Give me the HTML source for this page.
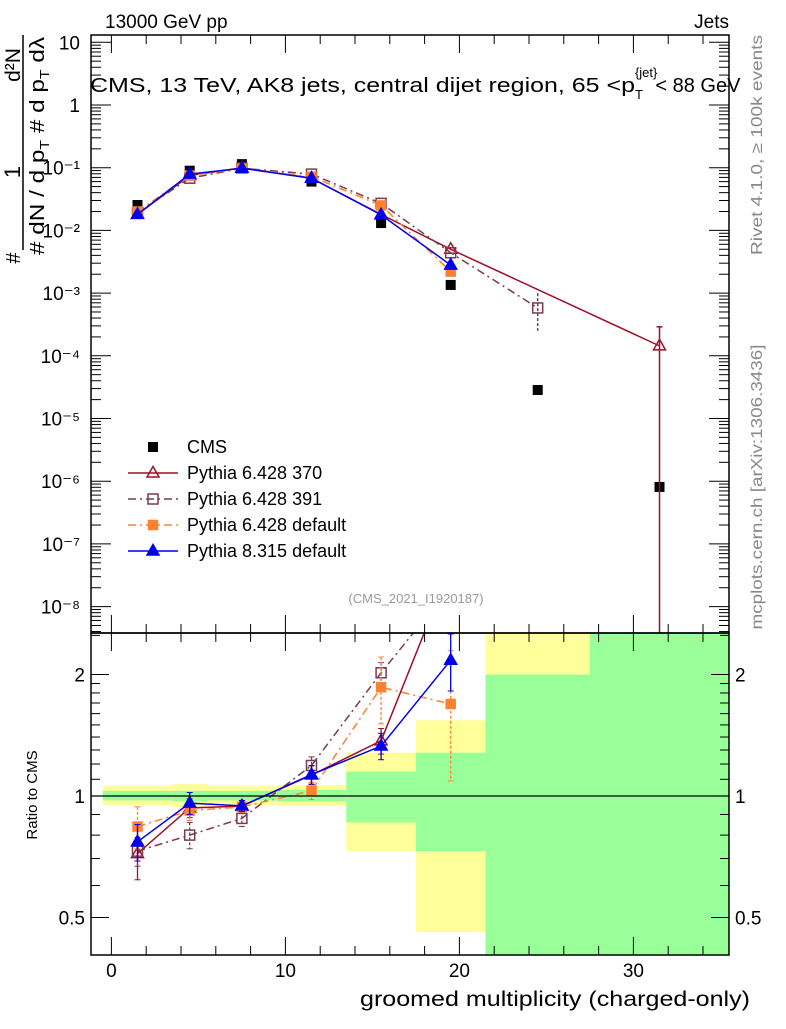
<!DOCTYPE html>
<html><head><meta charset="utf-8"><style>
body{margin:0;background:#fff}
svg text{font-family:"Liberation Sans",sans-serif}
</style></head><body>
<svg id="c" width="786" height="1024" xmlns="http://www.w3.org/2000/svg">
<text x="105" y="28" font-size="19">13000 GeV pp</text>
<text x="729" y="28" font-size="19" text-anchor="end">Jets</text>
<g id="bands"></g>
<g id="marks"></g>
<g id="axes"></g>
<text x="90" y="92" font-size="20"><tspan textLength="545" lengthAdjust="spacingAndGlyphs">CMS, 13 TeV, AK8 jets, central dijet region, 65 &lt;p</tspan><tspan font-size="13" dy="7">T</tspan><tspan font-size="13" dy="-22" dx="-8">{jet}</tspan><tspan dy="15" dx="-2">&lt; 88 GeV</tspan></text>
<text transform="translate(762,145) rotate(-90)" font-size="16" fill="#888" text-anchor="middle" textLength="220" lengthAdjust="spacingAndGlyphs">Rivet 4.1.0, ≥ 100k events</text>
<text transform="translate(762,487) rotate(-90)" font-size="16" fill="#888" text-anchor="middle" textLength="285" lengthAdjust="spacingAndGlyphs">mcplots.cern.ch [arXiv:1306.3436]</text>
<text x="416" y="603" font-size="13" fill="#999" text-anchor="middle">(CMS_2021_I1920187)</text>
<g>
<text transform="translate(20,65) rotate(-90)" text-anchor="middle" font-size="21">d²N</text>
<text transform="translate(20,172) rotate(-90)" text-anchor="middle" font-size="22">1</text>
<text transform="translate(20,258) rotate(-90)" text-anchor="middle" font-size="20">#</text>
<line x1="23" y1="35" x2="23" y2="250" stroke="#000" stroke-width="1.5"/>
<text transform="translate(44,255) rotate(-90)" font-size="20" textLength="218" lengthAdjust="spacingAndGlyphs"># dN / d p<tspan font-size="13" dy="5">T</tspan><tspan dy="-5"> # d p</tspan><tspan font-size="13" dy="5">T</tspan><tspan dy="-5"> dλ</tspan></text>
</g>
<text transform="translate(37,795) rotate(-90)" font-size="15" text-anchor="middle">Ratio to CMS</text>
<text x="750" y="1006" font-size="21" text-anchor="end" textLength="390" lengthAdjust="spacingAndGlyphs">groomed multiplicity (charged-only)</text>
<g id="legend"></g>
</svg>
<script>
const xCenters=[1.5,4.5,7.5,11.5,15.5,19.5,24.5,31.5];
const binEdges=[-0.5,3.5,5.5,9.5,13.5,17.5,21.5,27.5,35.5];
const cms=[0.0254,0.0895,0.114,0.060,0.0131,0.00135,2.85e-5,8.1e-7];
const p370=[0.018,0.075,0.100,0.068,0.018,0.005,null,1.44e-4];
const p391=[0.019,0.068,0.098,0.079,0.027,0.0044,5.8e-4,null];
const p6def=[0.020,0.075,0.097,0.072,0.025,0.0022,null,null];
const p8=[0.018,0.079,0.098,0.068,0.0177,0.0028,null,null];
const r370=[0.72,0.934,0.944,1.127,1.37,3.7];
const r391=[0.73,0.80,0.88,1.19,2.02,3.3];
const r6def=[0.84,0.92,0.94,1.03,1.86,1.69];
const r8=[0.77,0.96,0.945,1.13,1.33,2.17];
const rErr370=[0.10,0.05,0.03,0.06,0.10,0];
const rErr391=[0.06,0.06,0.04,0.06,0.12,0];
const rErr6=[0.10,0.05,0.03,0.05,0.35,0.6];
const rErr8=[0.08,0.06,0.03,0.06,0.10,0.35];
const bandYellowHi=[1.06,1.07,1.06,1.065,1.28,1.54,3,3];
const bandYellowLo=[0.95,0.94,0.95,0.945,0.73,0.46,0.3,0.3];
const bandGreenHi=[1.03,1.03,1.03,1.035,1.15,1.28,2.0,3];
const bandGreenLo=[0.975,0.97,0.975,0.97,0.86,0.73,0.3,0.3];
const mainTicks=["10","1","10⁻¹","10⁻²","10⁻³","10⁻⁴","10⁻⁵","10⁻⁶","10⁻⁷","10⁻⁸"];
const xTicks=[0,10,20,30];

const NS="http://www.w3.org/2000/svg";
const L=91,R=729,T=35,M=633,B=955;
const X=v=>111.4+17.4*v;
const Y=v=>105-62.7*Math.log10(v);
const RY=v=>796-121.5*Math.log2(v);
function mk(tag,at,par){const e=document.createElementNS(NS,tag);for(const k in at)e.setAttribute(k,at[k]);(par||document.getElementById('marks')).appendChild(e);return e;}
const bands=document.getElementById('bands'),axes=document.getElementById('axes'),marks=document.getElementById('marks');
const clipR=mk('clipPath',{id:'cr'},document.getElementById('c'));mk('rect',{x:L,y:M,width:R-L,height:B-M},clipR);
const clipM=mk('clipPath',{id:'cm'},document.getElementById('c'));mk('rect',{x:L,y:T,width:R-L,height:M-T},clipM);
bands.setAttribute('clip-path','url(#cr)');
for(let i=0;i<8;i++){
 const x1=X(binEdges[i]),x2=X(binEdges[i+1]);
 let e=mk('rect',{x:x1,y:RY(bandYellowHi[i]),width:x2-x1,height:RY(bandYellowLo[i])-RY(bandYellowHi[i]),fill:'#ffff99'},bands);
 
 
 e=mk('rect',{x:x1,y:RY(bandGreenHi[i]),width:x2-x1,height:RY(bandGreenLo[i])-RY(bandGreenHi[i]),fill:'#99ff99'},bands);
 
 
}
mk('line',{x1:L,y1:RY(1),x2:R,y2:RY(1),stroke:'#000','stroke-width':1.3},axes);
mk('rect',{x:L,y:T,width:R-L,height:M-T,fill:'none',stroke:'#000','stroke-width':1.5},axes);
mk('rect',{x:L,y:M,width:R-L,height:B-M,fill:'none',stroke:'#000','stroke-width':1.5},axes);
for(let d=-9;d<=1;d++){for(let k=1;k<10;k++){const v=k*Math.pow(10,d);const y=Y(v);if(y<T||y>M)continue;const len=k==1?20:10;
 mk('line',{x1:L,y1:y,x2:L+len,y2:y,stroke:'#000'},axes);mk('line',{x1:R,y1:y,x2:R-len,y2:y,stroke:'#000'},axes);}}
mainTicks.forEach((t,i)=>{const e=mk('text',{x:80,y:Y(Math.pow(10,1-i))+7,'font-size':19,'text-anchor':'end'},axes);e.textContent=t;
 
 });
for(let v=0;v<=34;v+=2){const x=X(v);const len=v%10==0?18:9;
 [[M,1],[B,-1],[T,1]].forEach(([y,s])=>mk('line',{x1:x,y1:y,x2:x,y2:y+s*len,stroke:'#000'},axes));
 mk('line',{x1:x,y1:M,x2:x,y2:M-len,stroke:'#000'},axes);}
xTicks.forEach(v=>{const e=mk('text',{x:X(v),y:977,'font-size':19,'text-anchor':'middle'},axes);e.textContent=v;
 
 });
for(const v of [0.4,0.5,0.6,0.7,0.8,0.9,1,1.1,1.2,1.3,1.4,1.5,1.6,1.7,1.8,1.9,2,2.5]){const y=RY(v);if(y<M||y>B)continue;const len=(v==0.5||v==1||v==2)?18:9;
 mk('line',{x1:L,y1:y,x2:L+len,y2:y,stroke:'#000'},axes);mk('line',{x1:R,y1:y,x2:R-len,y2:y,stroke:'#000'},axes);}
[[2,'2'],[1,'1'],[0.5,'0.5']].forEach(([v,t])=>{let e=mk('text',{x:85,y:RY(v)+7,'font-size':19,'text-anchor':'end'},axes);e.textContent=t;
 
 
 e=mk('text',{x:735,y:RY(v)+7,'font-size':19},axes);e.textContent=t;
 
 });

const styles=[
 {name:'pythia-6428-370',col:'#a00f28',dash:'',mk:'tri',fill:'none',lbl:'Pythia 6.428 370'},
 {name:'pythia-6428-391',col:'#7a3a52',dash:'8,4,2,4',mk:'sq',fill:'none',lbl:'Pythia 6.428 391'},
 {name:'pythia-6428-default',col:'#ff8030',dash:'8,4,2,4',mk:'sq',fill:'#ff8030',lbl:'Pythia 6.428 default'},
 {name:'pythia-8315-default',col:'#0000ee',dash:'',mk:'tri',fill:'#0000ee',lbl:'Pythia 8.315 default'}];
function marker(s,x,y,g,sz){sz=sz||1;
 if(s.mk=='tri')return mk('path',{d:`M${x},${y-6.5*sz}L${x+6*sz},${y+4*sz}L${x-6*sz},${y+4*sz}Z`,fill:s.fill=='none'?'#fff':s.fill,'fill-opacity':s.fill=='none'?0:1,stroke:s.col,'stroke-width':1.5},g);
 const h=s.fill=='none'?5:4.5;
 return mk('rect',{x:x-h,y:y-h,width:2*h,height:2*h,fill:s.fill=='none'?'none':s.fill,stroke:s.col,'stroke-width':1.5},g);}
const mainSeries=[p370,p391,p6def,p8];
const ratioSeries=[r370,r391,r6def,r8];
const ratioErr=[rErr370,rErr391,rErr6,rErr8];
const gm=mk('g',{'clip-path':'url(#cm)'});
cms.forEach((v,i)=>{const e=mk('rect',{x:X(xCenters[i])-5,y:Y(v)-5,width:10,height:10,fill:'#000'},gm);
 
 });
mainSeries.forEach((arr,si)=>{const s=styles[si];const g=mk('g',{},gm);
 
 
 const pts=[];arr.forEach((v,i)=>{if(v!=null)pts.push([X(xCenters[i]),Y(v)]);});
 mk('polyline',{points:pts.map(p=>p.join(',')).join(' '),fill:'none',stroke:s.col,'stroke-width':1.5,'stroke-dasharray':s.dash},g);
 pts.forEach(p=>marker(s,p[0],p[1],g));});
mk('line',{x1:X(31.5),y1:Y(2.9e-4),x2:X(31.5),y2:M,stroke:styles[0].col,'stroke-width':1.5},gm);
mk('line',{x1:X(31.5)-3,y1:Y(2.9e-4),x2:X(31.5)+3,y2:Y(2.9e-4),stroke:styles[0].col,'stroke-width':1.5},gm);
mk('line',{x1:X(24.5),y1:Y(1e-3),x2:X(24.5),y2:Y(2.5e-4),stroke:styles[1].col,'stroke-width':1.5,'stroke-dasharray':'3,2'},gm);
const gr=mk('g',{'clip-path':'url(#cr)'});
ratioSeries.forEach((arr,si)=>{const s=styles[si];const g=mk('g',{},gr);
 
 
 const pts=arr.map((v,i)=>[X(xCenters[i]),RY(v)]);
 mk('polyline',{points:pts.map(p=>p.join(',')).join(' '),fill:'none',stroke:s.col,'stroke-width':1.5,'stroke-dasharray':s.dash},g);
 arr.forEach((v,i)=>{const e=ratioErr[si][i];if(e>0){const x=X(xCenters[i]);
  mk('line',{x1:x,y1:RY(v+e),x2:x,y2:RY(Math.max(v-e,0.3)),stroke:s.col,'stroke-width':1.3,'stroke-dasharray':s.dash?'3,2':''},g);
  mk('line',{x1:x-3,y1:RY(v+e),x2:x+3,y2:RY(v+e),stroke:s.col},g);mk('line',{x1:x-3,y1:RY(v-e),x2:x+3,y2:RY(v-e),stroke:s.col},g);}
  marker(s,pts[i][0],pts[i][1],g);});});
const lg=document.getElementById('legend');
let e=mk('rect',{x:148,y:442,width:10,height:10,fill:'#000'},lg);
let t=mk('text',{x:187,y:453,'font-size':18},lg);t.textContent='CMS';
styles.forEach((s,i)=>{const y=473+26*i;const g=mk('g',{},lg);
 
 
 mk('line',{x1:128,y1:y,x2:178,y2:y,stroke:s.col,'stroke-width':1.5,'stroke-dasharray':s.dash},g);
 marker(s,153,y,g,1);
 const tt=mk('text',{x:187,y:y+6,'font-size':18},g);tt.textContent=s.lbl;});
</script>
</body></html>
